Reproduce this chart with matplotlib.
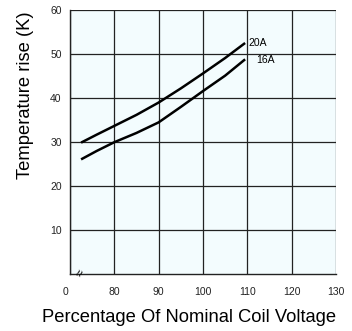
import matplotlib
matplotlib.use("Agg")
import matplotlib.pyplot as plt
from matplotlib.transforms import blended_transform_factory, offset_copy

plt.rcParams['font.family'] = ['Liberation Sans', 'DejaVu Sans']

x_pts = [72.5, 76, 80, 85, 90, 95, 100, 105, 109.5]
temp_20a = [29.8, 31.6, 33.6, 36.1, 38.9, 42.1, 45.5, 49.0, 52.4]
temp_16a = [26.0, 27.9, 29.9, 32.0, 34.4, 37.9, 41.5, 45.0, 48.7]
x_ticks = [70, 80, 90, 100, 110, 120, 130]
x_tick_labels = ["0", "80", "90", "100", "110", "120", "130"]
y_ticks = [10, 20, 30, 40, 50, 60]

fig = plt.figure(figsize=(3.52, 3.31), dpi=100)
ax = fig.add_axes([70/352, 1-274/331, (336-70)/352, (274-9.5)/331])
ax.set_facecolor('#F3FCFE')
ax.set_xlim(70, 130)
ax.set_ylim(0, 60)

ax.plot(x_pts, temp_20a, color='black', lw=1.8, solid_capstyle='butt')
ax.plot(x_pts, temp_16a, color='black', lw=1.8, solid_capstyle='butt')
ax.text(110.3, 52.4, "20A", fontsize=7.5, va='center', ha='left')
ax.text(112.0, 48.6, "16A", fontsize=7.5, va='center', ha='left')

ax.set_xticks(x_ticks)
ax.set_xticklabels([""] + x_tick_labels[1:])
ax.set_yticks(y_ticks)
ax.grid(True, color='#222222', lw=0.9)
ax.tick_params(axis='both', length=0, labelsize=7.5, colors='#222222')
ax.tick_params(axis='x', pad=9.5)
ax.tick_params(axis='y', pad=6)
for s in ['top', 'right']:
    ax.spines[s].set_visible(False)
for s in ['left', 'bottom']:
    ax.spines[s].set_color('#222222')
    ax.spines[s].set_linewidth(1.0)

tr = blended_transform_factory(ax.transData, ax.transAxes)
ax.text(68.9, 0, x_tick_labels[0], transform=offset_copy(tr, fig=fig, y=-9.5, units='points'),
        fontsize=7.5, color='#222222', ha='center', va='top')

ax.text(72.5, 0, "≈", fontsize=9, rotation=65, ha='center', va='center')

fig.text(189/352, 1-318/331, "Percentage Of Nominal Coil Voltage", fontsize=13.2,
         ha='center', va='center')
fig.text(25/352, 1-95/331, "Temperature rise (K)", fontsize=13.2, rotation=90,
         ha='center', va='center')

fig.savefig("out.png", dpi=100)
